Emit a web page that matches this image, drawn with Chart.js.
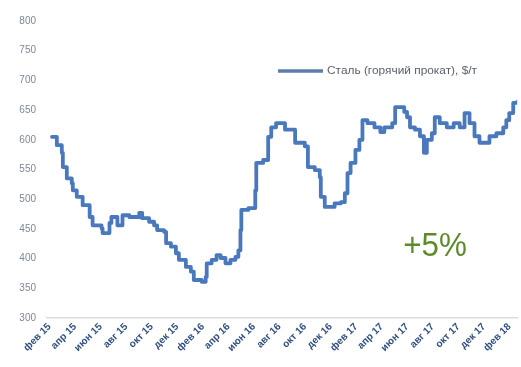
<!DOCTYPE html>
<html lang="ru">
<head>
    <meta charset="UTF-8">
    <script src="https://cdn.jsdelivr.net/npm/chart.js"></script>
    <title>Сталь</title>
    <style>
        body { margin: 0; background: #fff; }
        #grafico { display: block; }
    </style>
</head>
<body>
    <canvas id="grafico" width="521" height="367"></canvas>
<script>
    // подписи оси X (каждые 2 месяца)
    const rotulos = ['фев 15', 'апр 15', 'июн 15', 'авг 15', 'окт 15', 'дек 15',
        'фев 16', 'апр 16', 'июн 16', 'авг 16', 'окт 16', 'дек 16',
        'фев 17', 'апр 17', 'июн 17', 'авг 17', 'окт 17', 'дек 17', 'фев 18'];

    // месяцев от фев 15
    const meses = [0.19, 0.57, 0.96, 1.04, 1.35, 1.74, 1.82, 2.13, 2.59, 3.14, 3.37, 4.07, 4.15,
        4.69, 4.84, 5.31, 5.71, 6.24, 6.79, 7.02, 7.25, 7.79, 8.18, 8.42, 8.96, 9.12, 9.50,
        9.89, 10.12, 10.67, 11.06, 11.29, 11.91, 12.22, 12.30, 12.69, 13.07, 13.39, 13.77,
        14.16, 14.55, 14.78, 14.94, 15.01, 15.56, 16.10, 16.18, 16.72, 17.11, 17.35, 17.73,
        18.12, 18.43, 18.90, 19.22, 19.68, 19.98, 20.22, 20.76, 21.15, 21.23, 21.54, 22.31,
        22.80, 23.11, 23.32, 23.56, 23.94, 24.25, 24.49, 24.88, 25.43, 25.89, 26.20, 26.82,
        27.05, 27.59, 27.76, 27.98, 28.21, 28.60, 28.99, 29.30, 29.53, 29.92, 30.15, 30.54,
        31.09, 31.63, 32.10, 32.48, 32.87, 33.26, 33.65, 33.96, 34.43, 34.97, 35.51, 35.75,
        35.98, 36.29, 36.60];

    // цена, $/т
    const precos = [605, 591, 578, 554, 535, 527, 515, 504, 490, 470, 456, 451, 443,
        460, 470, 456, 473, 470, 470, 477, 468, 462, 456, 448, 445, 426, 420,
        409, 398, 386, 378, 364, 361, 369, 392, 398, 406, 401, 392,
        398, 403, 414, 448, 482, 485, 515, 561, 566, 605, 621, 628,
        628, 617, 617, 595, 595, 589, 554, 549, 537, 504, 487, 493,
        495, 510, 544, 561, 583, 600, 633, 628, 621, 613, 621, 628,
        655, 655, 647, 638, 621, 617, 606, 578, 600, 611, 638, 628,
        621, 628, 621, 645, 628, 606, 595, 595, 606, 611, 621, 633,
        645, 662, 664];

    const variacao = '+5%';

    const pontos = meses.map((m, i) => ({ x: m, y: precos[i] }));

    // legenda e texto de variação desenhados à mão
    const extras = {
        id: 'extras',
        afterDraw(chart) {
            const c = chart.ctx;
            const a = chart.chartArea;
            const ds = chart.data.datasets[0];
            c.save();
            c.strokeStyle = '#5b7dab';
            c.lineWidth = 3.5;
            c.beginPath();
            c.moveTo(a.left + 231, a.top + 50);
            c.lineTo(a.left + 276, a.top + 50);
            c.stroke();

            // texto da legenda um pouco comprimido
            c.fillStyle = '#5a5f6b';
            c.font = '10px "Liberation Sans", Arial, sans-serif';
            c.textBaseline = 'middle';
            const larg = c.measureText(ds.label).width;
            c.translate(a.left + 280, a.top + 50);
            c.scale(150 / larg, 1);
            c.fillText(ds.label, 0, 0);
            c.restore();

            c.save();
            c.fillStyle = '#5e8a2c';
            c.font = '33px "Liberation Sans", Arial, sans-serif';
            c.textAlign = 'center';
            c.textBaseline = 'alphabetic';
            c.translate(a.left + 388, a.top + 235);
            c.scale(0.95, 1);
            c.fillText(variacao, 0, 0);
            c.restore();
        }
    };

    const ctx = document.getElementById('grafico');

    const grafico = new Chart(ctx, {
        type: 'line',
        data: {
            datasets: [{
                label: 'Сталь (горячий прокат), $/т',
                data: pontos,
                borderColor: '#4a78bd',
                borderWidth: 3.8,
                pointRadius: 0,
                stepped: true,
                borderJoinStyle: 'round',
                borderCapStyle: 'round'
            }]
        },
        options: {
            responsive: false,
            animation: false,
            layout: { padding: { top: 21, right: 0, left: 0, bottom: 0 } },
            plugins: {
                legend: { display: false },
                tooltip: { enabled: false }
            },
            scales: {
                x: {
                    type: 'linear',
                    min: -0.2,
                    max: 36.6,
                    grid: { display: false, drawTicks: false },
                    border: { display: true, color: '#dcdcdc', width: 1.5 },
                    afterBuildTicks: (s) => { s.ticks = rotulos.map((_, i) => ({ value: i * 2 })); },
                    afterFit: (s) => { s.height = 49; },
                    ticks: {
                        autoSkip: false,
                        minRotation: 45,
                        maxRotation: 45,
                        padding: 3,
                        color: '#2f4f80',
                        font: { family: '"Liberation Sans", Arial, sans-serif', size: 10, weight: 'bold' },
                        callback: (v) => rotulos[Math.round(v / 2)]
                    }
                },
                y: {
                    min: 300,
                    max: 800,
                    grid: { display: false, drawTicks: false },
                    border: { display: false },
                    afterFit: (s) => { s.width = 47; },
                    ticks: {
                        stepSize: 50,
                        padding: 11,
                        color: '#7d879a',
                        font: { family: '"Liberation Sans", Arial, sans-serif', size: 10 }
                    }
                }
            }
        },
        plugins: [extras]
    });
</script>
</body>
</html>
